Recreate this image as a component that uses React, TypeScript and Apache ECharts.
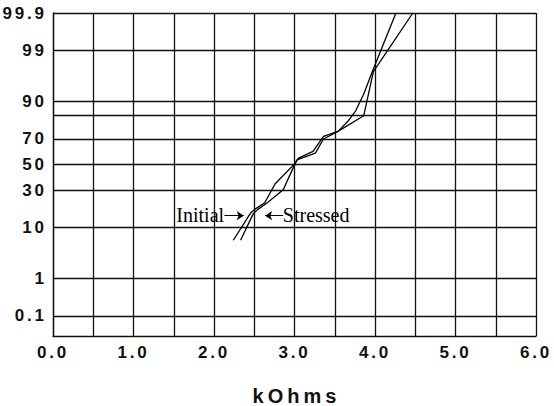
import React, { useEffect, useRef } from "react";
import * as echarts from "echarts";

// ---- data ----
const xTickLabels = ["0.0", "1.0", "2.0", "3.0", "4.0", "5.0", "6.0"];
const yLabelPercents = [99.9, 99, 90, 70, 50, 30, 10, 1, 0.1];
const yLabelTexts = ["99.9", "99", "90", "70", "50", "30", "10", "1", "0.1"];
const yExtraGridPercents = [84.13];

const initialKOhm = [2.24, 2.46, 2.51, 2.63, 2.76, 3.01, 3.05, 3.23, 3.36, 3.54, 3.67, 3.76, 3.86, 3.96, 4.26];
const initialPct = [6.1, 16.4, 18.1, 21.7, 34.7, 51.1, 55.2, 60.5, 71.6, 75.0, 81.4, 86.3, 92.5, 96.9, 99.9];
const stressedKOhm = [2.33, 2.49, 2.55, 2.67, 2.86, 3.01, 3.03, 3.26, 3.36, 3.54, 3.86, 3.98, 4.47];
const stressedPct = [6.1, 15.9, 18.1, 22.0, 30.3, 51.1, 53.8, 59.2, 69.8, 75.0, 84.0, 97.1, 99.9];

// annotation anchors (kOhm, percent)
const initialLabelAt = [2.125, 15.2];
const initialArrow = [[2.13, 14.8], [2.37, 14.8]];
const stressedLabelAt = [2.855, 15.2];
const stressedArrow = [[2.86, 14.8], [2.635, 14.8]];

// normal probability scale (inverse normal CDF, Acklam)
function probit(pct: number): number {
  const p = pct / 100;
  const a = [-3.969683028665376e1, 2.209460984245205e2, -2.759285104469687e2, 1.38357751867269e2, -3.066479806614716e1, 2.506628277459239];
  const b = [-5.447609879822406e1, 1.615858368580409e2, -1.556989798598866e2, 6.680131188771972e1, -1.328068155288572e1];
  const c = [-7.784894002430293e-3, -3.223964580411365e-1, -2.400758277161838, -2.549732539343734, 4.374664141464968, 2.938163982698783];
  const d = [7.784695709041462e-3, 3.224671290700398e-1, 2.445134137142996, 3.754408661907416];
  const pl = 0.02425;
  if (p < pl) {
    const q = Math.sqrt(-2 * Math.log(p));
    return (((((c[0] * q + c[1]) * q + c[2]) * q + c[3]) * q + c[4]) * q + c[5]) / ((((d[0] * q + d[1]) * q + d[2]) * q + d[3]) * q + 1);
  }
  if (p > 1 - pl) {
    const q = Math.sqrt(-2 * Math.log(1 - p));
    return -(((((c[0] * q + c[1]) * q + c[2]) * q + c[3]) * q + c[4]) * q + c[5]) / ((((d[0] * q + d[1]) * q + d[2]) * q + d[3]) * q + 1);
  }
  const q = p - 0.5;
  const r = q * q;
  return ((((((a[0] * r + a[1]) * r + a[2]) * r + a[3]) * r + a[4]) * r + a[5]) * q) / (((((b[0] * r + b[1]) * r + b[2]) * r + b[3]) * r + b[4]) * r + 1);
}

const spaced = (s: string, sp: string) => s.split("").join(sp);
const SIX = "\u2006";
const THIN = "\u2009";

const labelZ = yLabelPercents.map(probit);
const gridZ = [...yLabelPercents, ...yExtraGridPercents].map(probit);
const yMax = probit(99.9);
const yMin = -3.5;

const toPts = (xs: number[], ps: number[]) => xs.map((x, i) => [x, probit(ps[i])]);

const black = "#000";
const gridLine = { color: "#111", width: 1.3 };
const sans = "Liberation Sans, Arial, sans-serif";

export default function App() {
  const ref = useRef<HTMLDivElement>(null);
  useEffect(() => {
    document.body.style.margin = "0";
    const chart = echarts.init(ref.current!, null, { renderer: "svg" });
    const arrowLine = (pts: number[][]) => ({
      silent: true,
      symbol: ["none", "arrow"],
      symbolSize: 7,
      lineStyle: { color: black, width: 1, type: "solid" },
      label: { show: false },
      emphasis: { disabled: true },
      data: [[{ coord: [pts[0][0], probit(pts[0][1])] }, { coord: [pts[1][0], probit(pts[1][1])] }]],
    });
    const textPoint = (at: number[], text: string, pos: string) => ({
      silent: true,
      symbol: "circle",
      symbolSize: 0,
      itemStyle: { color: "transparent" },
      label: {
        show: true,
        position: pos,
        distance: 0,
        formatter: text,
        fontFamily: "Liberation Serif, Times New Roman, serif",
        fontSize: 20,
        color: black,
      },
      data: [{ coord: [at[0], probit(at[1])] }],
    });
    chart.setOption({
      animation: false,
      grid: { left: 53, right: 18, top: 13, bottom: 70, containLabel: false, outerBoundsMode: "none" },
      xAxis: {
        type: "value",
        min: 0,
        max: 6,
        interval: 0.5,
        name: spaced("kOhms", THIN),
        nameLocation: "middle",
        nameGap: 50,
        nameTextStyle: { fontFamily: sans, fontWeight: "bold", fontSize: 20, color: "#111" },
        axisLine: { show: true, onZero: false, lineStyle: gridLine },
        axisTick: { show: false },
        splitLine: { show: true, lineStyle: gridLine },
        axisLabel: {
          margin: 8,
          fontFamily: sans,
          fontWeight: "bold",
          fontSize: 17,
          color: "#111",
          showMinLabel: true,
          showMaxLabel: true,
          formatter: (v: number) => {
            const i = Math.round(v);
            if (Math.abs(v - i) > 1e-6) return "";
            return spaced(xTickLabels[i], SIX) + SIX;
          },
        },
      },
      yAxis: {
        type: "value",
        min: yMin,
        max: yMax,
        axisLine: { show: true, onZero: false, lineStyle: gridLine },
        axisTick: { show: false, customValues: gridZ },
        splitLine: { show: true, lineStyle: gridLine },
        axisLabel: {
          customValues: labelZ,
          margin: 9,
          padding: [6, 0, 0, 0],
          fontFamily: sans,
          fontWeight: "bold",
          fontSize: 17,
          color: "#111",
          formatter: (v: number) => {
            const i = labelZ.findIndex((z) => Math.abs(z - v) < 1e-6);
            return i >= 0 ? spaced(yLabelTexts[i], SIX) : "";
          },
        },
      },
      series: [
        {
          name: "Initial",
          type: "line",
          data: toPts(initialKOhm, initialPct),
          showSymbol: false,
          symbol: "none",
          lineStyle: { color: black, width: 1.3 },
          z: 5,
          markLine: arrowLine(initialArrow),
          markPoint: textPoint(initialLabelAt, "Initial", "left"),
        },
        {
          name: "Stressed",
          type: "line",
          data: toPts(stressedKOhm, stressedPct),
          showSymbol: false,
          symbol: "none",
          lineStyle: { color: black, width: 1.3 },
          z: 5,
          markLine: arrowLine(stressedArrow),
          markPoint: textPoint(stressedLabelAt, "Stressed", "right"),
        },
      ],
    });
    return () => chart.dispose();
  }, []);
  return <div ref={ref} style={{ width: 554, height: 406 }} />;
}
